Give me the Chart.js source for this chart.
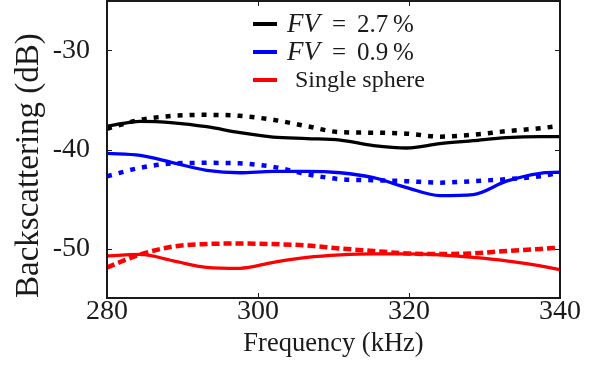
<!DOCTYPE html>
<html><head><meta charset="utf-8">
<script src="https://cdn.jsdelivr.net/npm/chart.js@4/dist/chart.umd.min.js"></script>
<style>html,body{margin:0;padding:0;background:#fff;}#wrap{width:591px;height:369px;position:relative;}</style>
</head><body><div id="wrap"><canvas id="c" width="591" height="369"></canvas></div>
<script>
// ---- data ----
const freq = [280, 284.4, 288.8, 293.2, 297.6, 302, 306.5, 310.9, 315.3, 319.7, 324.1, 328.5, 332.9, 337.4, 340];
const fv27Solid  = [-37.65,-37.15,-37.3,-37.7,-38.3,-38.75,-38.9,-39.05,-39.6,-39.85,-39.4,-39.1,-38.8,-38.7,-38.7];
const fv27Dotted = [-37.9,-37.0,-36.6,-36.5,-36.6,-37.0,-37.65,-38.25,-38.3,-38.4,-38.7,-38.5,-38.15,-37.85,-37.6];
const fv09Solid  = [-40.4,-40.6,-41.35,-42.1,-42.35,-42.2,-42.2,-42.35,-42.85,-43.85,-44.65,-44.55,-43.2,-42.4,-42.3];
const fv09Dotted = [-42.7,-41.85,-41.4,-41.35,-41.4,-41.75,-42.5,-43.0,-43.1,-43.2,-43.35,-43.2,-43.0,-42.7,-42.35];
const singleSolid  = [-50.75,-50.6,-51.25,-51.9,-52.0,-51.4,-50.9,-50.65,-50.55,-50.55,-50.65,-50.9,-51.25,-51.75,-52.15];
const singleDotted = [-51.9,-50.6,-49.8,-49.55,-49.5,-49.55,-49.7,-50.0,-50.25,-50.5,-50.55,-50.5,-50.25,-50.05,-49.9];
const xTicks = [280, 300, 320, 340];
const yTicks = [-50, -40, -30];
const legendItems = [
  {math: true, name: 'FV', rest: '= 2.7 %', color: '#000000'},
  {math: true, name: 'FV', rest: '= 0.9 %', color: '#0000ff'},
  {math: false, name: 'Single sphere', color: '#ff0000'}
];

const SERIF = "'Liberation Serif','Times New Roman',serif";
const pts = arr => arr.map((v, i) => ({x: freq[i], y: v}));
function ds(arr, color, dotted, dash) {
  return {
    data: pts(arr), borderColor: color, backgroundColor: color,
    borderWidth: dotted ? 4.5 : 3.3, borderDash: dotted ? dash : [],
    pointRadius: 0, cubicInterpolationMode: 'monotone', fill: false
  };
}

const framePlugin = {
  id: 'framePlugin',
  afterDatasetsDraw(chart) {
    const {ctx, chartArea: a, scales: {x, y}} = chart;
    ctx.save();
    ctx.strokeStyle = '#1a1a1a';
    ctx.lineWidth = 2;
    ctx.strokeRect(a.left, a.top, a.right - a.left, a.bottom - a.top);
    ctx.lineWidth = 1;
    ctx.beginPath();
    xTicks.forEach(v => {
      const p = Math.round(x.getPixelForValue(v)) + 0.5;
      ctx.moveTo(p, a.bottom); ctx.lineTo(p, a.bottom - 5);
      ctx.moveTo(p, a.top); ctx.lineTo(p, a.top + 5);
    });
    yTicks.forEach(v => {
      const p = Math.round(y.getPixelForValue(v)) + 0.5;
      ctx.moveTo(a.left, p); ctx.lineTo(a.left + 5, p);
      ctx.moveTo(a.right, p); ctx.lineTo(a.right - 5, p);
    });
    ctx.stroke();

    // legend
    const lx = a.left + 146, rowY = [a.top + 23, a.top + 51, a.top + 79];
    legendItems.forEach((it, i) => {
      const yy = rowY[i];
      ctx.strokeStyle = it.color; ctx.lineWidth = 4;
      ctx.beginPath(); ctx.moveTo(lx, yy); ctx.lineTo(lx + 24, yy); ctx.stroke();
      ctx.fillStyle = '#1a1a1a';
      ctx.textBaseline = 'middle'; ctx.textAlign = 'left';
      if (it.math) {
        ctx.font = 'italic 27px ' + SERIF;
        ctx.fillText(it.name, lx + 34, yy + 1);
        ctx.font = '25px ' + SERIF;
        const parts = it.rest.split(' ');
        ctx.fillText(parts[0], lx + 79, yy + 1);
        ctx.fillText(parts[1], lx + 104, yy + 1);
        ctx.fillText(parts[2], lx + 140, yy + 1);
      } else {
        ctx.font = '24px ' + SERIF;
        ctx.fillText(it.name, lx + 42, yy + 1);
      }
    });
    ctx.restore();
  }
};

new Chart(document.getElementById('c'), {
  type: 'line',
  data: {
    datasets: [
      ds(fv27Solid, '#000000', false),
      ds(fv27Dotted, '#000000', true, [5, 7]),
      ds(fv09Solid, '#0000ff', false),
      ds(fv09Dotted, '#0000ff', true, [5, 7]),
      ds(singleSolid, '#ff0000', false),
      ds(singleDotted, '#ff0000', true, [8, 4])
    ]
  },
  options: {
    responsive: false, animation: false, devicePixelRatio: 1,
    layout: {padding: {left: 0, right: 31, top: 1, bottom: 0}},
    plugins: {legend: {display: false}, tooltip: {enabled: false}},
    scales: {
      x: {
        type: 'linear', min: 280, max: 340,
        grid: {display: false, drawTicks: false},
        border: {display: false},
        afterBuildTicks: s => { s.ticks = xTicks.map(v => ({value: v})); },
        afterFit: s => { s.height = 71; s.paddingLeft = 0; s.paddingRight = 0; },
        ticks: {color: '#1a1a1a', padding: 0, maxRotation: 0,
          font: {family: SERIF, size: 28, lineHeight: 1}},
        title: {display: true, text: 'Frequency (kHz)', color: '#1a1a1a',
          font: {family: SERIF, size: 26.5, lineHeight: 1.2}, padding: {top: 0, bottom: 9}}
      },
      y: {
        type: 'linear', min: -55, max: -25,
        grid: {display: false, drawTicks: false},
        border: {display: false},
        afterBuildTicks: s => { s.ticks = yTicks.map(v => ({value: v})); },
        afterFit: s => { s.width = 107; s.paddingTop = 0; s.paddingBottom = 0; },
        ticks: {color: '#1a1a1a', padding: 17,
          font: {family: SERIF, size: 28, lineHeight: 1}},
        title: {display: true, text: 'Backscattering (dB)', color: '#1a1a1a', align: 'start',
          font: {family: SERIF, size: 33, lineHeight: 1.2}, padding: {top: 10, bottom: 0}}
      }
    }
  },
  plugins: [framePlugin]
});
</script></body></html>
